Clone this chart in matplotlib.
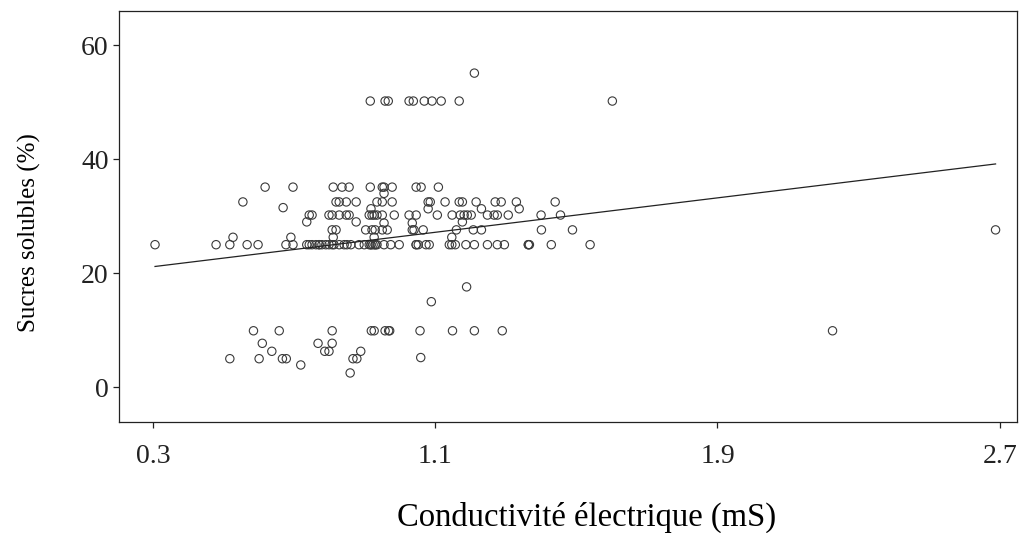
import matplotlib
matplotlib.use('Agg')

import numpy as np
import matplotlib.pyplot as plt

plt.rcParams['font.family'] = ['Liberation Serif', 'DejaVu Serif']

# conductivity (mS) and soluble sugars (%), grouped by row
x_50 = [0.916, 0.958, 0.967, 1.026, 1.038, 1.069, 1.091, 1.117, 1.168, 1.602, 1.211]
y_50 = [50.2] * 10 + [55.1]

x_35 = [0.618, 0.697, 0.811, 0.836, 0.856, 0.916, 0.950, 0.955, 0.978, 1.046,
        1.060, 1.109, 0.955]
y_35 = [35.1] * 12 + [34.0]

x_32 = [0.555, 0.819, 0.828, 0.848, 0.876, 0.935, 0.950, 0.978, 1.080, 1.086,
        1.128, 1.168, 1.177, 1.216, 1.270, 1.287, 1.330, 1.440,
        0.669, 0.918, 1.080, 1.231, 1.338]
y_32 = [32.5] * 18 + [31.5, 31.3, 31.3, 31.3, 31.3]

x_30 = [0.743, 0.751, 0.799, 0.808, 0.828, 0.848, 0.856, 0.913, 0.921, 0.927,
        0.935, 0.950, 0.984, 1.026, 1.046, 1.106, 1.148, 1.171, 1.182, 1.191,
        1.202, 1.248, 1.267, 1.276, 1.307, 1.400, 1.455,
        0.736, 0.876, 1.177, 0.955, 1.035]
y_30 = [30.2] * 27 + [29.0, 29.0, 29.0, 28.8, 28.8]

x_27 = [0.808, 0.819, 0.903, 0.921, 0.930, 0.950, 0.964, 1.035, 1.040, 1.066,
        1.160, 1.208, 1.231, 1.401, 1.489, 2.688,
        0.527, 0.691, 0.811, 0.927, 1.147]
y_27 = [27.6] * 16 + [26.3] * 5

x_25 = [0.306, 0.479, 0.518, 0.567, 0.598, 0.677, 0.697, 0.736, 0.743, 0.751,
        0.762, 0.771, 0.779, 0.790, 0.799, 0.813, 0.828, 0.842, 0.850, 0.861,
        0.884, 0.899, 0.913, 0.918, 0.924, 0.930, 0.935, 0.955, 0.974, 0.998,
        1.046, 1.052, 1.074, 1.083, 1.140, 1.147, 1.157, 1.187, 1.211, 1.248,
        1.276, 1.296, 1.364, 1.367, 1.429, 1.539,
        0.918, 0.930, 1.046, 1.364, 0.771, 0.808]
y_25 = [25.0] * 52

x_low = [1.189, 1.089,
         0.585, 0.658, 0.808, 0.919, 0.927, 0.958, 0.968, 0.971, 1.057, 1.149,
         1.211, 1.290, 2.226,
         0.610, 0.768, 0.808,
         0.637, 0.787, 0.799, 0.889,
         0.518, 0.601, 0.667, 0.678, 0.867, 0.878, 1.059,
         0.719, 0.859]
y_low = [17.6, 15.0] + [9.9] * 13 + [7.7] * 3 + [6.3] * 4 + [5.0] * 6 + [5.2, 3.9, 2.5]

# fitted regression line
fit_intercept = 18.87
fit_slope = 7.55

x_ticks = [0.3, 1.1, 1.9, 2.7]
y_ticks = [0, 20, 40, 60]

conduct = np.array(x_50 + x_35 + x_32 + x_30 + x_27 + x_25 + x_low)
sucres = np.array(y_50 + y_35 + y_32 + y_30 + y_27 + y_25 + y_low)

fig = plt.figure(figsize=(10.27, 5.33), dpi=100)
ax = fig.add_axes([0.1159, 0.2083, 0.8741, 0.7711])

ax.scatter(conduct, sucres, s=36, facecolors='none', edgecolors='#3a3a3a',
           linewidths=0.8, zorder=2)

xl = np.array([conduct.min(), conduct.max()])
ax.plot(xl, fit_intercept + fit_slope * xl, color='#222222', lw=0.9, zorder=3)

ax.set_xlim(0.204, 2.748)
ax.set_ylim(-6.1, 66)
ax.set_xticks(x_ticks)
ax.set_xticklabels([str(t) for t in x_ticks])
ax.set_yticks(y_ticks)

ax.tick_params(direction='out', length=4.5, width=0.9, labelsize=20, colors='#222222')
ax.tick_params(axis='x', pad=11)
ax.tick_params(axis='y', pad=3)
for s in ax.spines.values():
    s.set_linewidth(0.9)
    s.set_color('#222222')

ax.set_xlabel('Conductivité électrique (mS)', fontsize=23.5, labelpad=24, x=0.521)
ax.set_ylabel('Sucres solubles (%)', fontsize=18, labelpad=29, y=0.462)

fig.savefig('out.png', dpi=100)
